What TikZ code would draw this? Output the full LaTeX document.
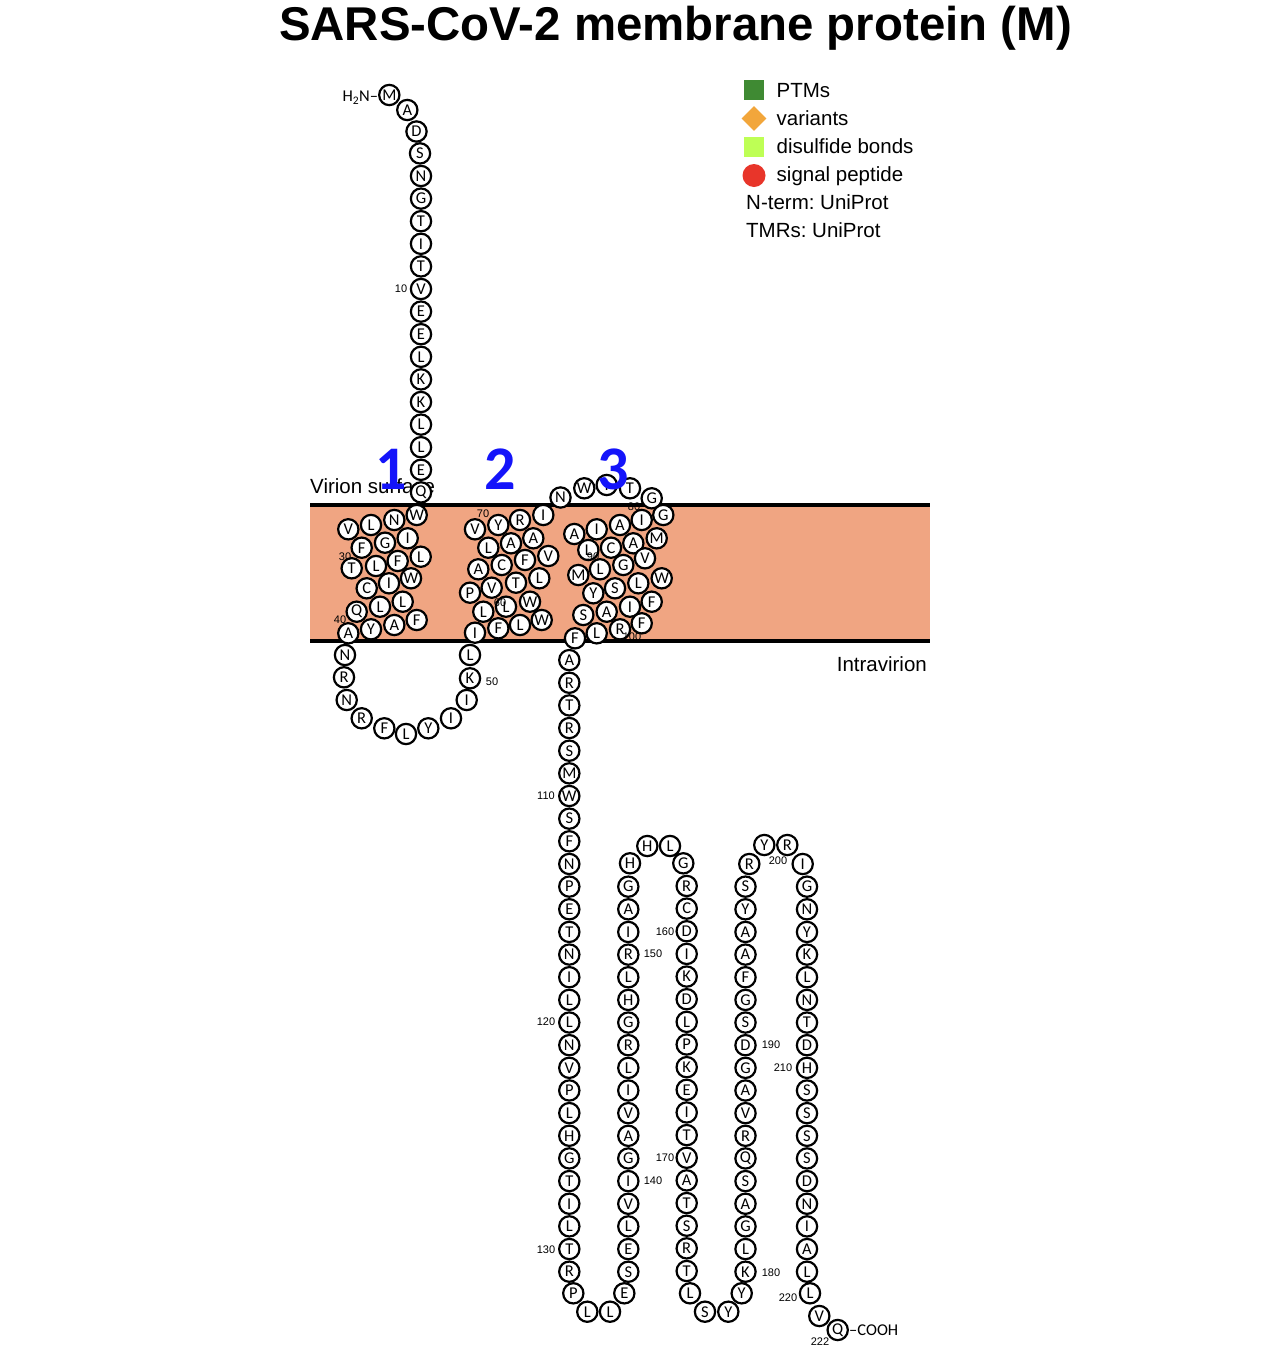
\documentclass[tikz,border=0pt]{standalone}
\usepackage{fontspec}
\usetikzlibrary{shapes.geometric}
\setmainfont{Liberation Sans}
\newfontfamily\calib{Carlito}
\frenchspacing
\definecolor{membfill}{RGB}{240,165,130}
\definecolor{ptmgreen}{RGB}{63,138,51}
\definecolor{varorange}{RGB}{242,166,59}
\definecolor{disgreen}{RGB}{190,255,85}
\definecolor{sigred}{RGB}{232,53,42}
\definecolor{tmblue}{RGB}{20,20,250}
\begin{document}
\begin{tikzpicture}[x=1pt,y=-1pt,
  resid/.style={circle,draw=black,line width=2.2pt,fill=white,minimum size=20.3pt,inner sep=0pt,font=\calib\fontsize{16.5}{16.5}\selectfont},
  numlab/.style={inner sep=0pt,font=\fontsize{11}{11}\selectfont},
  legtext/.style={anchor=base west,inner sep=0pt,font=\fontsize{20.5}{22}\selectfont},
  sidetext/.style={inner sep=0pt,font=\fontsize{20.5}{22}\selectfont},
  tmnum/.style={anchor=base,inner sep=0pt,text=tmblue,font=\calib\bfseries\fontsize{62}{62}\selectfont},
  termtext/.style={inner sep=0pt,font=\calib\fontsize{16.5}{16.5}\selectfont},
  membline/.style={line width=4pt,black}]
\useasboundingbox[fill=white] (0,0) rectangle (1268,1363);
% title
\node[anchor=base,inner sep=0pt,font=\bfseries\fontsize{47.4}{50}\selectfont] (title) at (675.5,40) {SARS-CoV-2 membrane protein (M)};
% membrane
\coordinate (mtl) at (310,505);
\coordinate (mtr) at (930,505);
\coordinate (mbl) at (310,641);
\coordinate (mbr) at (930,641);
\fill[membfill] (mtl) rectangle (mbr);
\draw[membline] (mtl) -- (mtr);
\draw[membline] (mbl) -- (mbr);
\node[sidetext,anchor=base west] (virion) at (310,493.5) {Virion surface};
\node[sidetext,anchor=base east] (intra) at (927,671) {Intravirion};
% legend
\node[draw=none,fill=ptmgreen,minimum size=20pt,inner sep=0pt] (legptm) at (754,90) {};
\node[draw=none,fill=varorange,diamond,minimum size=25pt,inner sep=0pt,shape aspect=1] (legvar) at (754,118.5) {};
\node[draw=none,fill=disgreen,minimum size=20pt,inner sep=0pt] (legdis) at (754,146.5) {};
\node[draw=none,fill=sigred,circle,minimum size=23pt,inner sep=0pt] (legsig) at (754,175.5) {};
\node[legtext] (tptm) at (776.5,97) {PTMs};
\node[legtext] (tvar) at (776.5,125) {variants};
\node[legtext] (tdis) at (776.5,153.3) {disulfide bonds};
\node[legtext] (tsig) at (776.5,181) {signal peptide};
\node[legtext] (tnterm) at (746,209.3) {N-term: UniProt};
\node[legtext] (ttmr) at (746,237.5) {TMRs: UniProt};
% N-terminal residues
\node[resid] (r1) at (389.3,95) {M};
\node[resid] (r2) at (407.3,110) {A};
\node[resid] (r3) at (416.5,131.5) {D};
\foreach \n/\l in {4/S,5/N,6/G,7/T,8/I,9/T,10/V,11/E,12/E,13/L,14/K,15/K,16/L,17/L,18/E,19/Q}
  \node[resid] (r\n) at ({\n==4 ? 420 : 421},{289+(\n-10)*22.6}) {\l};
\node[termtext,anchor=east] (nterm) at (378.3,97.5) {H\textsubscript{2}N\textendash};
% TM1
\foreach \n/\x/\y/\l in {20/416.7/515/W,21/394.3/520/N,22/371/525/L,23/348.3/529.3/V,
  24/407.7/538.3/I,25/385/542.7/G,26/361.7/547.7/F,
  27/420.7/556.7/L,28/397.7/561/F,29/376/566/L,30/351.7/568.3/T,
  31/411/578.3/W,32/389/583.3/I,33/366.7/588.3/C,
  34/402.7/601.7/L,35/380/606.7/L,36/356.7/611.7/Q,
  37/416.7/620/F,38/394.3/625/A,39/371/629.3/Y,40/348.3/633.3/A,
  41/345/655/N,42/344/677.3/R,43/346.7/700/N,44/361.7/718.3/R,45/384.3/728.3/F,
  46/406/734/L,47/428.3/728.3/Y,48/451/718.3/I,49/466.7/700/I,50/470/678.3/K,51/470/655/L,
  52/475/632.7/I,53/498.3/628.3/F,54/520/625/L,55/541.7/620/W,
  56/483.3/611.7/L,57/506/606.7/L,58/530/601.7/W,
  59/470/592.7/P,60/491.7/587.7/V,61/516/582.7/T,62/539.3/578.3/L,
  63/478.3/569.3/A,64/501.7/565/C,65/525/560/F,66/548.3/556/V,
  67/488.3/547.7/L,68/511/543.3/A,69/533.3/538.3/A,
  70/475/529.3/V,71/498.3/525/Y,72/520/520/R,73/543.3/515/I,
  74/560.5/497.5/N,75/584.3/488.3/W,76/606.7/485/I,77/630/488.3/T,78/651.7/498.3/G,
  79/663.3/515/G,80/641.7/520/I,81/620/525/A,82/596.7/529.3/I,83/574.3/534/A,
  84/656.7/538.3/M,85/633.3/543.3/A,86/611/547.7/C,87/588.3/550/L,
  88/645/558.3/V,89/623.3/565/G,90/600/569.3/L,91/578.3/575/M,
  92/661.7/578.3/W,93/638.3/583.3/L,94/615/588.3/S,95/593.3/593.3/Y,
  96/651.7/601.7/F,97/630/606.7/I,98/606.7/611.7/A,99/583.3/615/S,
  100/641.7/623.3/F,101/620/629.3/R,102/596.7/633.3/L,103/575/638.3/F}
  \node[resid] (r\n) at (\x,\y) {\l};
% column 1
\foreach \n/\l in {104/A,105/R,106/T,107/R,108/S,109/M,110/W,111/S,112/F,113/N,114/P,115/E,116/T,117/N,118/I,119/L,120/L,121/N,122/V,123/P,124/L,125/H,126/G,127/T,128/I,129/L,130/T,131/R}
  \node[resid] (r\n) at (569.3,{796+(\n-110)*22.65}) {\l};
\node[resid] (r132) at (573.3,1293.3) {P};
\node[resid] (r133) at (587.3,1311.7) {L};
\node[resid] (r134) at (610,1311.7) {L};
\node[resid] (r135) at (624.3,1293.3) {E};
% column 2
\foreach \n/\l in {136/S,137/E,138/L,139/V,140/I,141/G,142/A,143/V,144/I,145/L,146/R,147/G,148/H,149/L,150/R,151/I,152/A,153/G}
  \node[resid] (r\n) at (628.3,{1271.7-(\n-136)*22.65}) {\l};
\node[resid] (r154) at (630,863.3) {H};
\node[resid] (r155) at (647.3,846) {H};
\node[resid] (r156) at (670,846) {L};
\node[resid] (r157) at (683.3,863.3) {G};
% column 3
\foreach \n/\l in {158/R,159/C,160/D,161/I,162/K,163/D,164/L,165/P,166/K,167/E,168/I,169/T,170/V,171/A,172/T,173/S,174/R,175/T}
  \node[resid] (r\n) at (686.7,{863.3+(\n-157)*22.65}) {\l};
\node[resid] (r176) at (690,1293.3) {L};
\node[resid] (r177) at (705,1311.7) {S};
\node[resid] (r178) at (728.3,1311.7) {Y};
\node[resid] (r179) at (741.7,1293.3) {Y};
% column 4
\foreach \n/\l in {180/K,181/L,182/G,183/A,184/S,185/Q,186/R,187/V,188/A,189/G,190/D,191/S,192/G,193/F,194/A,195/A,196/Y,197/S}
  \node[resid] (r\n) at (745.5,{1271.7-(\n-180)*22.65}) {\l};
\node[resid] (r198) at (749.3,864) {R};
\node[resid] (r199) at (764.3,845) {Y};
\node[resid] (r200) at (787.3,845) {R};
\node[resid] (r201) at (802.7,864) {I};
% column 5
\foreach \n/\l in {202/G,203/N,204/Y,205/K,206/L,207/N,208/T,209/D,210/H,211/S,212/S,213/S,214/S,215/D,216/N,217/I,218/A,219/L}
  \node[resid] (r\n) at (807,{864+(\n-201)*22.65}) {\l};
\node[resid] (r220) at (810,1293.3) {L};
\node[resid] (r221) at (819.3,1316) {V};
\node[resid] (r222) at (837.7,1330) {Q};
\node[termtext,anchor=west] (cterm) at (849,1330.5) {\textendash COOH};
% position labels
\foreach \t/\x/\y in {10/401/289,30/345/557,40/340/620,50/492/682,60/500/603,70/483/514,80/634/507,90/593/557,100/632/637,
  110/546/796,120/546/1022,130/546/1250,140/653/1181,150/653/954,160/665/932,170/665/1158,
  180/771/1273,190/771/1045,200/778/861,210/783/1068,220/788/1298,222/820/1342}
  \node[numlab] (lab\t) at (\x,\y) {\t};
% TM numbers
\node[tmnum] (tm1) at (391,489.5) {1};
\node[tmnum] (tm2) at (500,489.5) {2};
\node[tmnum] (tm3) at (613,489.5) {3};
\end{tikzpicture}
\end{document}
